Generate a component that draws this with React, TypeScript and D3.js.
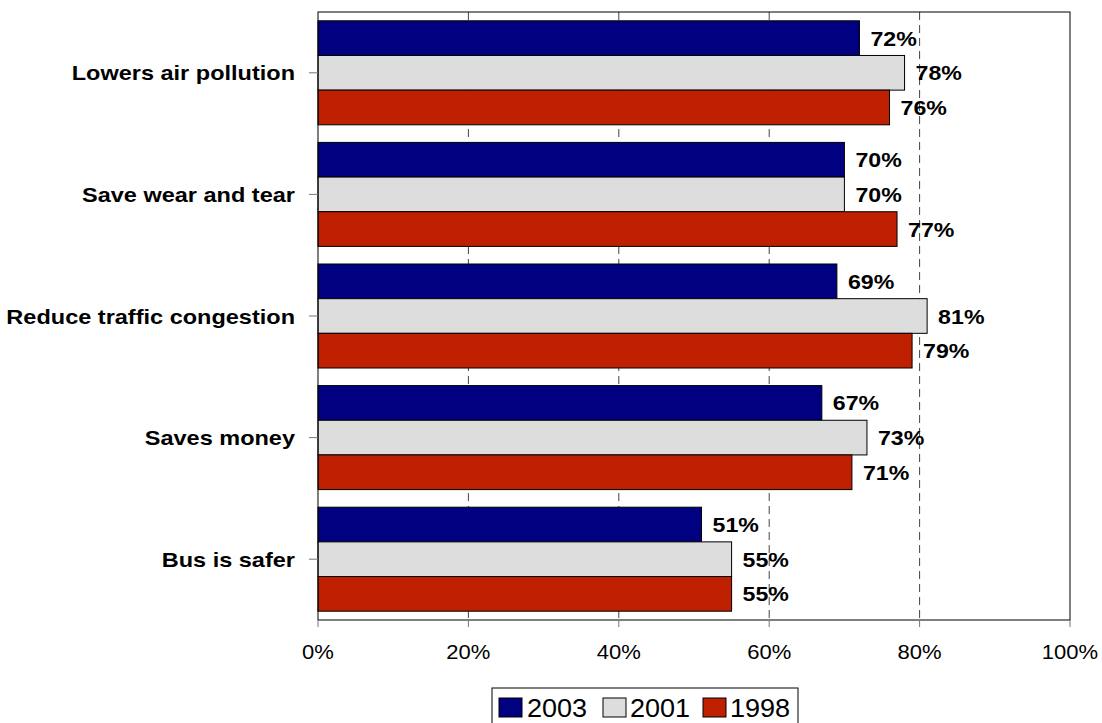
import React from "react";
import * as d3 from "d3";

const categories = [
  "Lowers air pollution",
  "Save wear and tear",
  "Reduce traffic congestion",
  "Saves money",
  "Bus is safer",
];
const seriesNames = ["2003", "2001", "1998"];
const values2003 = [72, 70, 69, 67, 51];
const values2001 = [78, 70, 81, 73, 55];
const values1998 = [76, 77, 79, 71, 55];
const xTicks = [0, 20, 40, 60, 80, 100];
const gridTicks = [20, 40, 60, 80];
const colors = ["#000080", "#DDDDDD", "#BF2000"];

const W = 1102;
const H = 723;
const plot = { left: 318, right: 1070, top: 12, bottom: 620 };
const FONT = "'Liberation Sans', Arial, Helvetica, sans-serif";
const SX = 1.13;

export default function App() {
  const seriesValues = [values2003, values2001, values1998];
  const x = d3.scaleLinear().domain([0, 100]).range([plot.left, plot.right]);
  const y = d3
    .scaleBand<string>()
    .domain(categories)
    .range([plot.top, plot.bottom])
    .paddingInner(0.1447)
    .paddingOuter(0.0724);
  const inner = d3
    .scaleBand<string>()
    .domain(seriesNames)
    .range([0, y.bandwidth()])
    .padding(0);
  const bh = inner.bandwidth();

  const legendItems = [
    { name: "2003", sx: 499, tx: 527 },
    { name: "2001", sx: 603, tx: 630 },
    { name: "1998", sx: 703, tx: 730 },
  ];

  return (
    <svg
      width={W}
      height={H}
      style={{ position: "absolute", left: 0, top: 0, background: "#fff" }}
      fontFamily={FONT}
    >
      <rect x={0} y={0} width={W} height={H} fill="#fff" />
      {/* dashed gridlines */}
      {gridTicks.map((t) => (
        <line
          key={"g" + t}
          x1={x(t)}
          x2={x(t)}
          y1={plot.top}
          y2={plot.bottom}
          stroke="#444"
          strokeWidth={1}
          strokeDasharray="8 5"
        />
      ))}
      {/* bars */}
      {categories.map((c, ci) =>
        seriesNames.map((s, si) => {
          const v = seriesValues[si][ci];
          const by = (y(c) as number) + (inner(s) as number);
          return (
            <g key={c + s}>
              <rect
                x={x(0)}
                y={by}
                width={x(v) - x(0)}
                height={bh}
                fill={colors[si]}
                stroke="#000"
                strokeWidth={1}
              />
              <text
                transform={`translate(${x(v) + 11},${by + bh / 2 + 7.5}) scale(${SX},1)`}
                fontSize={20.5}
                fontWeight="bold"
                fill="#000"
              >
                {v}%
              </text>
            </g>
          );
        })
      )}
      {/* frame */}
      <rect
        x={plot.left}
        y={plot.top}
        width={plot.right - plot.left}
        height={plot.bottom - plot.top}
        fill="none"
        stroke="#000"
        strokeWidth={1}
      />
      {/* x ticks and labels */}
      {xTicks.map((t) => (
        <g key={"x" + t}>
          <line x1={x(t)} x2={x(t)} y1={plot.bottom} y2={plot.bottom + 7} stroke="#777" strokeWidth={1} />
          <text
            transform={`translate(${x(t)},${plot.bottom + 39}) scale(${SX},1)`}
            textAnchor="middle"
            fontSize={19.5}
            fill="#000"
          >
            {t}%
          </text>
        </g>
      ))}
      {/* category ticks and labels */}
      {categories.map((c) => {
        const cy = (y(c) as number) + y.bandwidth() / 2;
        return (
          <g key={"c" + c}>
            <line x1={plot.left - 9} x2={plot.left} y1={cy} y2={cy} stroke="#777" strokeWidth={1} />
            <text
              transform={`translate(${plot.left - 23},${cy + 7.5}) scale(1.12,1)`}
              textAnchor="end"
              fontSize={21}
              fontWeight="bold"
              fill="#000"
            >
              {c}
            </text>
          </g>
        );
      })}
      {/* legend */}
      <rect x={492} y={688} width={306} height={42} fill="#fff" stroke="#000" strokeWidth={1} />
      {legendItems.map((it, i) => (
        <g key={"l" + it.name}>
          <rect x={it.sx} y={698} width={23} height={19} fill={colors[i]} stroke="#000" strokeWidth={1} />
          <text
            transform={`translate(${it.tx},${717}) scale(1.04,1)`}
            fontSize={26}
            fill="#000"
          >
            {it.name}
          </text>
        </g>
      ))}
    </svg>
  );
}
